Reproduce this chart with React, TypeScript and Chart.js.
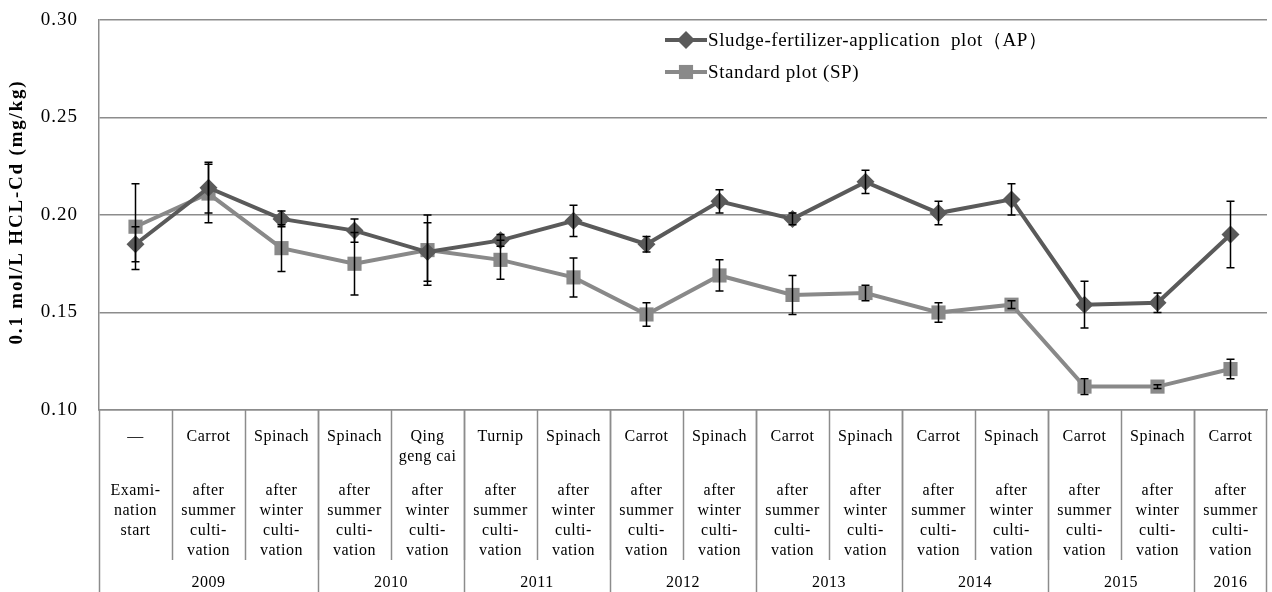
import React, { useEffect, useRef } from "react";
import { Chart, registerables } from "chart.js";

Chart.register(...registerables);

const categories = ["c0","c1","c2","c3","c4","c5","c6","c7","c8","c9","c10","c11","c12","c13","c14","c15"];
const apValues = [0.185, 0.214, 0.198, 0.192, 0.181, 0.187, 0.197, 0.185, 0.207, 0.198, 0.217, 0.201, 0.208, 0.154, 0.155, 0.190];
const apErrors = [0.009, 0.013, 0.004, 0.006, 0.015, 0.003, 0.008, 0.004, 0.006, 0.003, 0.006, 0.006, 0.008, 0.012, 0.005, 0.017];
const spValues = [0.194, 0.211, 0.183, 0.175, 0.182, 0.177, 0.168, 0.149, 0.169, 0.159, 0.160, 0.150, 0.154, 0.112, 0.112, 0.121];
const spErrors = [0.022, 0.015, 0.012, 0.016, 0.018, 0.010, 0.010, 0.006, 0.008, 0.010, 0.004, 0.005, 0.002, 0.004, 0.001, 0.005];
const crops = [["—"], ["Carrot"], ["Spinach"], ["Spinach"], ["Qing", "geng cai"], ["Turnip"], ["Spinach"], ["Carrot"], ["Spinach"], ["Carrot"], ["Spinach"], ["Carrot"], ["Spinach"], ["Carrot"], ["Spinach"], ["Carrot"]];
const examLabel = ["Exami-", "nation", "start"];
const summerLabel = ["after", "summer", "culti-", "vation"];
const winterLabel = ["after", "winter", "culti-", "vation"];
const seasons = ["exam", "summer", "winter", "summer", "winter", "summer", "winter", "summer", "winter", "summer", "winter", "summer", "winter", "summer", "winter", "summer"];
const yearLabels = ["2009", "2010", "2011", "2012", "2013", "2014", "2015", "2016"];
const yearCounts = [3, 2, 2, 2, 2, 2, 2, 1];
const yTicks = [0.10, 0.15, 0.20, 0.25, 0.30];
const yTitle = "0.1 mol/L HCL-Cd (mg/kg)";

const AP_COLOR = "#5a5a5a";
const SP_COLOR = "#898989";
const GRID = "#8c8c8c";
const FONT = "'Liberation Serif', 'Times New Roman', serif";

const tablePlugin = {
  id: "tablePlugin",
  beforeDraw(chart: any) {
    (chart.ctx as any).letterSpacing = "1px";
  },
  afterDraw(chart: any) {
    (chart.ctx as any).letterSpacing = "0px";
  },
  afterDatasetsDraw(chart: any) {
    const ctx = chart.ctx;
    const x = chart.scales.x;
    const area = chart.chartArea;
    const errs = [apErrors, spErrors];
    // error bars
    ctx.save();
    ctx.strokeStyle = "#000";
    ctx.lineWidth = 1.5;
    chart.data.datasets.forEach((ds: any, di: number) => {
      const meta = chart.getDatasetMeta(di);
      meta.data.forEach((pt: any, i: number) => {
        const v = ds.data[i];
        const e = errs[di][i];
        const yT = chart.scales.y.getPixelForValue(v + e);
        const yB = chart.scales.y.getPixelForValue(v - e);
        ctx.beginPath();
        ctx.moveTo(pt.x, yT);
        ctx.lineTo(pt.x, yB);
        ctx.moveTo(pt.x - 4, yT);
        ctx.lineTo(pt.x + 4, yT);
        ctx.moveTo(pt.x - 4, yB);
        ctx.lineTo(pt.x + 4, yB);
        ctx.stroke();
      });
    });
    ctx.restore();

    // table
    const n = categories.length;
    const half = (x.getPixelForValue(1) - x.getPixelForValue(0)) / 2;
    const bottom = chart.height;
    const sepEnd = area.bottom + 150;
    ctx.save();
    ctx.strokeStyle = GRID;
    ctx.lineWidth = 1.5;
    for (let i = 1; i < n; i++) {
      const px = Math.round(x.getPixelForValue(i) - half) + 0.5;
      ctx.beginPath();
      ctx.moveTo(px, area.bottom);
      ctx.lineTo(px, sepEnd);
      ctx.stroke();
    }
    let idx = 0;
    const yearEdges = [0];
    yearCounts.forEach((c) => { idx += c; yearEdges.push(idx); });
    yearEdges.forEach((k) => {
      const px = Math.min(Math.round(x.getPixelForValue(k) - half) + 0.5, chart.width - 5.5);
      ctx.beginPath();
      ctx.moveTo(px, area.bottom);
      ctx.lineTo(px, bottom);
      ctx.stroke();
    });
    ctx.restore();

    ctx.save();
    (ctx as any).letterSpacing = "0.5px";
    ctx.fillStyle = "#000";
    ctx.font = "16px " + FONT;
    ctx.textAlign = "center";
    ctx.textBaseline = "middle";
    for (let i = 0; i < n; i++) {
      const cx = x.getPixelForValue(i);
      crops[i].forEach((t, j) => ctx.fillText(t, cx, area.bottom + 27 + j * 20));
      const s = seasons[i] === "exam" ? examLabel : seasons[i] === "summer" ? summerLabel : winterLabel;
      s.forEach((t, j) => ctx.fillText(t, cx, area.bottom + 81 + j * 20));
    }
    let start = 0;
    yearLabels.forEach((yl, k) => {
      const c = yearCounts[k];
      const cx = (x.getPixelForValue(start) + x.getPixelForValue(start + c - 1)) / 2;
      ctx.fillText(yl, cx, area.bottom + 173);
      start += c;
    });
    ctx.restore();

    // y title
    ctx.save();
    (ctx as any).letterSpacing = "1.8px";
    ctx.fillStyle = "#000";
    ctx.font = "bold 19px " + FONT;
    ctx.textAlign = "center";
    ctx.textBaseline = "middle";
    ctx.translate(17, (area.top + area.bottom) / 2 - 3);
    ctx.rotate(-Math.PI / 2);
    ctx.fillText(yTitle, 0, 0);
    ctx.restore();

    // legend
    ctx.save();
    const lx = 665;
    const items = [
      { label: chart.data.datasets[0].label, color: AP_COLOR, style: "rectRot", r: 9, y: 40 },
      { label: chart.data.datasets[1].label, color: SP_COLOR, style: "rect", r: 10, y: 72 },
    ];
    items.forEach((it) => {
      ctx.strokeStyle = it.color;
      ctx.lineWidth = 4;
      ctx.beginPath();
      ctx.moveTo(lx, it.y);
      ctx.lineTo(lx + 42, it.y);
      ctx.stroke();
      ctx.fillStyle = it.color;
      ctx.beginPath();
      if (it.style === "rectRot") {
        ctx.moveTo(lx + 21 - it.r, it.y);
        ctx.lineTo(lx + 21, it.y - it.r);
        ctx.lineTo(lx + 21 + it.r, it.y);
        ctx.lineTo(lx + 21, it.y + it.r);
        ctx.closePath();
      } else {
        const s = it.r * Math.SQRT1_2;
        ctx.rect(lx + 21 - s, it.y - s, 2 * s, 2 * s);
      }
      ctx.fill();
      (ctx as any).letterSpacing = "0.6px";
      ctx.fillStyle = "#000";
      ctx.font = "19px " + FONT;
      ctx.textAlign = "left";
      ctx.textBaseline = "middle";
      ctx.fillText(it.label, lx + 43, it.y + 1);
    });
    ctx.restore();
  },
};

export default function App() {
  const ref = useRef<HTMLCanvasElement | null>(null);
  useEffect(() => {
    if (!ref.current) return;
    const chart = new Chart(ref.current, {
      type: "line",
      data: {
        labels: categories,
        datasets: [
          {
            label: "Sludge-fertilizer-application  plot（AP）",
            data: apValues,
            borderColor: AP_COLOR,
            backgroundColor: AP_COLOR,
            borderWidth: 4,
            pointStyle: "rectRot",
            pointRadius: 9,
            pointBorderWidth: 0,
            tension: 0,
          },
          {
            label: "Standard plot (SP)",
            data: spValues,
            borderColor: SP_COLOR,
            backgroundColor: SP_COLOR,
            borderWidth: 4,
            pointStyle: "rect",
            pointRadius: 10,
            pointBorderWidth: 0,
            tension: 0,
          },
        ],
      },
      options: {
        responsive: false,
        animation: false,
        layout: { autoPadding: false, padding: { left: 0, top: 20, right: 5, bottom: 182 } },
        plugins: { legend: { display: false }, tooltip: { enabled: false } },
        scales: {
          x: {
            type: "category",
            offset: true,
            display: true,
            ticks: { display: false },
            grid: { display: false, drawTicks: false },
            border: { display: true, color: GRID, width: 1.5 },
          },
          y: {
            min: 0.1,
            max: 0.3,
            afterBuildTicks: (scale: any) => {
              scale.ticks = yTicks.map((v) => ({ value: v }));
            },
            afterFit: (scale: any) => {
              scale.width = 99;
              scale.paddingTop = 0;
              scale.paddingBottom = 0;
            },
            ticks: {
              padding: 21,
              color: "#000",
              font: { family: FONT, size: 19 },
              callback: (v: any) => Number(v).toFixed(2),
            },
            grid: { color: GRID, lineWidth: 1.5, drawTicks: false },
            border: { display: true, color: GRID, width: 1.5 },
            title: { display: false },
          },
        },
      },
      plugins: [tablePlugin],
    });
    return () => chart.destroy();
  }, []);
  return (
    <div style={{ position: "fixed", left: 0, top: 0, width: 1272, height: 592, background: "#fff" }}>
      <canvas ref={ref} width={1272} height={592} style={{ width: 1272, height: 592 }} />
    </div>
  );
}
